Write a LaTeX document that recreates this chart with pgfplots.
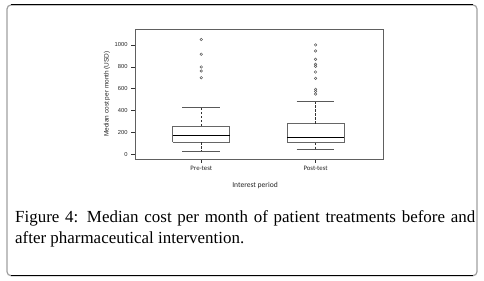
\documentclass[border=0pt]{standalone}
\usepackage{fontspec}
\setmainfont{Liberation Serif}
\newfontfamily\plotfont{Liberation Sans}
\newfontfamily\labfont{Carlito}
\usepackage{pgfplots}
\pgfplotsset{compat=1.18}
\begin{document}
\begin{tikzpicture}
\path[use as bounding box] (0bp,0bp) rectangle (484bp,281bp);
\draw[gray!75, line width=1.2bp, rounded corners=4bp] (7bp,5.3bp) rectangle (477bp,276bp);
\draw[black, line width=1bp] (11bp,276bp) -- (473bp,276bp);
\draw[black, line width=1bp] (11bp,5.3bp) -- (473bp,5.3bp);
\begin{axis}[
  at={(135bp,122bp)}, anchor=south west, scale only axis,
  width=248bp, height=130bp,
  xmin=0.42, xmax=2.59, ymin=-40, ymax=1145,
  axis line style={gray!75!black, line width=0.7bp},
  tick style={gray!40!black, line width=0.6bp},
  tick align=outside, major tick length=4bp,
  xtick pos=bottom, ytick pos=left,
  xtick={1,2}, xticklabels={Pre-test,Post-test},
  ytick={0,200,400,600,800,1000},
  /pgf/number format/1000 sep={},
  /pgf/number format/assume math mode=true,
  yticklabel style={font=\plotfont\fontsize{5.8}{7}\selectfont, text=black!85},
  xticklabel style={font=\labfont\fontsize{6.8}{8}\selectfont, text=black!85},
  ylabel={Median cost per month (USD)},
  xlabel={Interest period},
  ylabel style={font=\plotfont\fontsize{6.5}{7}\selectfont, text=black!85,
    at={(axis description cs:-0.113,0.5)}, anchor=center},
  xlabel style={font=\labfont\fontsize{7.6}{8}\selectfont, text=black!85,
    at={(axis description cs:0.484,-0.2)}, anchor=center},
  clip=false,
]
% ---- Pre-test (x=1) ----
\addplot[draw=gray!80!black, line width=0.8bp, line join=miter] coordinates {(0.75,112) (1.25,112) (1.25,259) (0.75,259) (0.75,112)};
\addplot[draw=black, line width=1.4bp] coordinates {(0.75,174) (1.25,174)};
\addplot[draw=gray!40!black, line width=0.6bp, dash pattern=on 2.5bp off 1.5bp] coordinates {(1,259) (1,430)};
\addplot[draw=gray!40!black, line width=0.6bp, dash pattern=on 2.5bp off 1.5bp] coordinates {(1,112) (1,33)};
\addplot[draw=gray!70!black, line width=0.8bp] coordinates {(0.835,430) (1.165,430)};
\addplot[draw=gray!70!black, line width=0.8bp] coordinates {(0.835,33) (1.165,33)};
\addplot[only marks, mark=o, mark size=1.3bp, mark options={draw=gray!70!black, line width=0.5bp}]
  coordinates {(1,1049) (1,915) (1,799) (1,762) (1,701)};
% ---- Post-test (x=2) ----
\addplot[draw=gray!80!black, line width=0.8bp, line join=miter] coordinates {(1.75,110) (2.25,110) (2.25,280) (1.75,280) (1.75,110)};
\addplot[draw=black, line width=1.4bp] coordinates {(1.75,155) (2.25,155)};
\addplot[draw=gray!40!black, line width=0.6bp, dash pattern=on 2.5bp off 1.5bp] coordinates {(2,280) (2,488)};
\addplot[draw=gray!40!black, line width=0.6bp, dash pattern=on 2.5bp off 1.5bp] coordinates {(2,110) (2,48)};
\addplot[draw=gray!70!black, line width=0.8bp] coordinates {(1.835,488) (2.165,488)};
\addplot[draw=gray!70!black, line width=0.8bp] coordinates {(1.835,48) (2.165,48)};
\addplot[only marks, mark=o, mark size=1.3bp, mark options={draw=gray!70!black, line width=0.5bp}]
  coordinates {(2,1000) (2,945) (2,869) (2,823) (2,805) (2,753) (2,695) (2,595) (2,576) (2,552)};
\end{axis}
\node[anchor=north west, inner sep=0pt, text width=460bp, align=justify,
  font=\fontsize{17}{21}\selectfont] at (15bp,71bp)
  {Figure 4: Median cost per month of patient treatments before and after pharmaceutical intervention.};
\end{tikzpicture}
\end{document}
